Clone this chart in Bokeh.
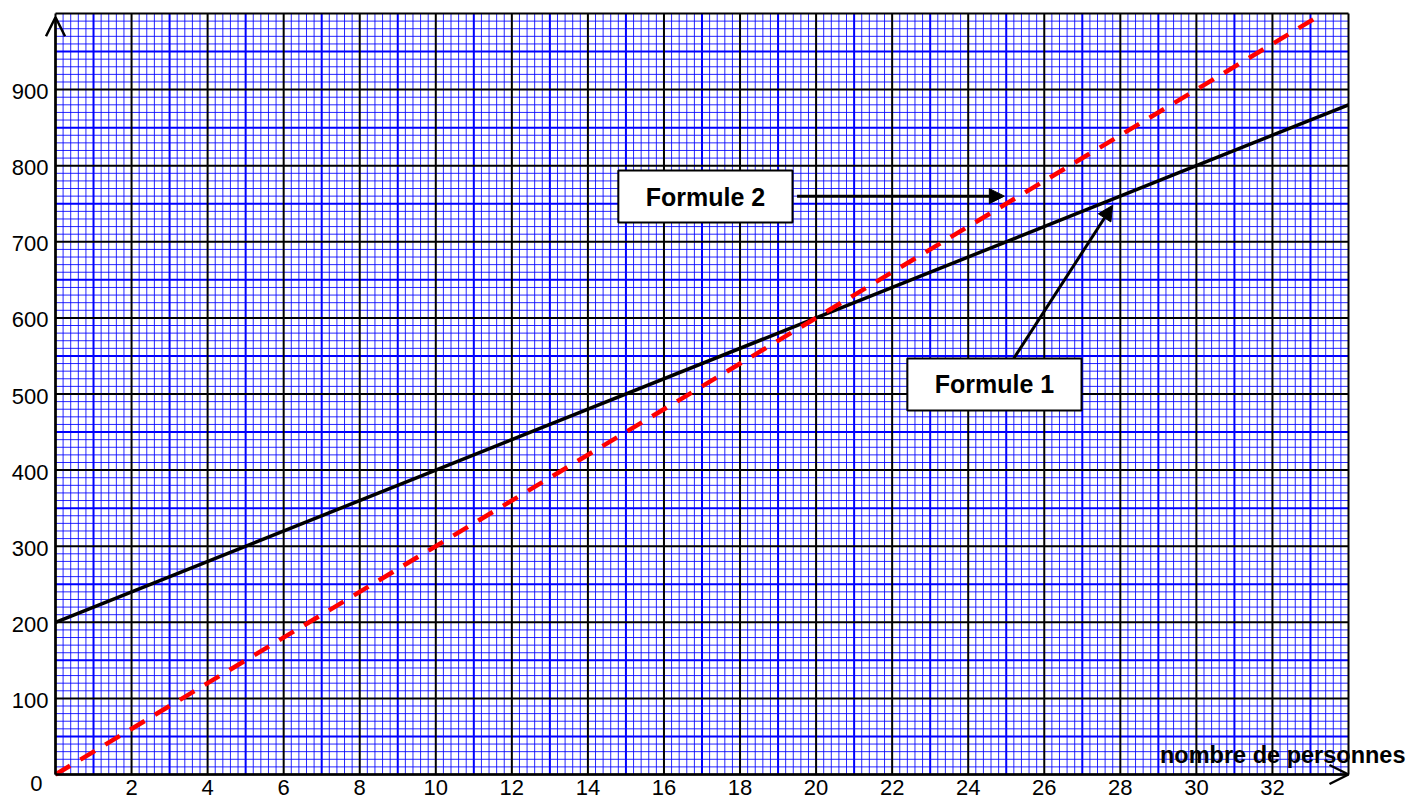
from bokeh.plotting import figure
from bokeh.models import (Range1d, Label, LabelSet, ColumnDataSource,
                          Arrow, NormalHead, OpenHead, BoxAnnotation)
from bokeh.core.properties import value
from bokeh.embed import file_html
from bokeh.resources import INLINE

# ---- data ----
x_f1 = [0, 10, 20, 30, 34]
y_f1 = [200, 400, 600, 800, 880]
x_f2 = [0, 10, 20, 30, 33.33]
y_f2 = [0, 300, 600, 900, 1000]
x_ticks = [2, 4, 6, 8, 10, 12, 14, 16, 18, 20, 22, 24, 26, 28, 30, 32]
x_labels = [str(v) for v in x_ticks]
y_ticks = [100, 200, 300, 400, 500, 600, 700, 800, 900]
y_labels = [str(v) for v in y_ticks]
x_title = "nombre de personnes"
label_f1 = "Formule 1"
label_f2 = "Formule 2"

FONT = "Liberation Sans"
XMAX, YMAX = 34, 1000

# layout: paper area occupies pixels 55..1348 (x) and 13..774 (y) of the canvas
W, H = 1408, 801
PX_L, PX_R, PX_T, PX_B = 55, 1348, 13, 774
sx = (PX_R - PX_L) / XMAX
sy = (PX_B - PX_T) / YMAX
x_range = Range1d(-PX_L / sx, XMAX + (W - PX_R) / sx)
y_range = Range1d(-(H - PX_B) / sy, YMAX + PX_T / sy)

p = figure(width=W, height=H, output_backend="svg", toolbar_location=None,
           x_range=x_range, y_range=y_range,
           x_axis_location=None, y_axis_location=None,
           min_border_left=0, min_border_right=0, min_border_top=0, min_border_bottom=0)
p.grid.visible = False
p.outline_line_color = None
p.background_fill_color = "white"
p.border_fill_color = "white"

# ---- graph paper grid ----
x_minor = [i * 0.2 for i in range(171) if i % 5 != 0]
y_minor = [i * 10 for i in range(101) if i % 5 != 0]
x_mid = [i for i in range(1, 34, 2)]
y_mid = [i * 100 + 50 for i in range(10)]
x_major = [i for i in range(0, 35, 2)]
y_major = [i * 100 for i in range(11)]

for xs, ys, color, width, alpha in [
    (x_minor, y_minor, "#0000ff", 1, 0.85),
    (x_mid, y_mid, "#0000ff", 2, 1.0),
    (x_major, y_major, "black", 2, 1.0),
]:
    p.segment(x0=xs, y0=[0] * len(xs), x1=xs, y1=[YMAX] * len(xs),
              line_color=color, line_width=width, line_alpha=alpha)
    p.segment(x0=[0] * len(ys), y0=ys, x1=[XMAX] * len(ys), y1=ys,
              line_color=color, line_width=width, line_alpha=alpha)

# ---- lines ----
p.line(x_f1, y_f1, line_color="black", line_width=3.5)
p.line(x_f2, y_f2, line_color="#ff0000", line_width=4.5, line_dash="17 12")

# ---- axis arrows ----
p.add_layout(Arrow(end=OpenHead(size=19, line_width=2.5, line_color="black"),
                   x_start=0, y_start=0, x_end=0, y_end=995,
                   line_width=2.5, line_color="black"))
p.add_layout(Arrow(end=OpenHead(size=19, line_width=2.5, line_color="black"),
                   x_start=0, y_start=0, x_end=XMAX, y_end=0,
                   line_width=2.5, line_color="black"))

# ---- tick labels ----
src_x = ColumnDataSource(dict(x=x_ticks, y=[0] * len(x_ticks), t=x_labels))
p.add_layout(LabelSet(x="x", y="y", text="t", source=src_x, text_align="center",
                      text_baseline="alphabetic", y_offset=-20,
                      text_font=value(FONT), text_font_size="22px", text_color="black"))
src_y = ColumnDataSource(dict(x=[0] * len(y_ticks), y=y_ticks, t=y_labels))
p.add_layout(LabelSet(x="x", y="y", text="t", source=src_y, text_align="right",
                      text_baseline="middle", x_offset=-7, y_offset=-2,
                      text_font=value(FONT), text_font_size="22px", text_color="black"))
p.add_layout(Label(x=0, y=0, text="0", text_align="right", text_baseline="middle",
                   x_offset=-13, y_offset=-9, text_font=FONT, text_font_size="22px",
                   text_color="black"))
p.add_layout(Label(x=XMAX, y=0, text=x_title, text_align="right", text_baseline="alphabetic",
                   x_offset=57, y_offset=20, text_font=FONT, text_font_size="23.5px",
                   text_font_style="bold", text_color="black"))

# ---- annotation boxes ----
p.add_layout(BoxAnnotation(left=14.8, right=19.38, bottom=725.4, top=793.7,
                           fill_color="white", fill_alpha=1, line_color="black",
                           line_width=2, line_alpha=1))
p.add_layout(BoxAnnotation(left=22.4, right=26.98, bottom=478.3, top=546.6,
                           fill_color="white", fill_alpha=1, line_color="black",
                           line_width=2, line_alpha=1))
p.add_layout(Label(x=17.09, y=759.5, text=label_f2, text_align="center",
                   text_baseline="middle", text_font=FONT, text_font_size="25px",
                   text_font_style="bold", text_color="black"))
p.add_layout(Label(x=24.69, y=512.5, text=label_f1, text_align="center",
                   text_baseline="middle", text_font=FONT, text_font_size="25px",
                   text_font_style="bold", text_color="black"))

# ---- pointer arrows ----
p.add_layout(Arrow(end=NormalHead(size=15, fill_color="black", line_color="black"),
                   x_start=19.5, y_start=760, x_end=24.95, y_end=760,
                   line_width=3, line_color="black"))
p.add_layout(Arrow(end=NormalHead(size=15, fill_color="black", line_color="black"),
                   x_start=25.2, y_start=547, x_end=27.8, y_end=748,
                   line_width=3, line_color="black"))

open("out.html", "w").write(file_html(p, INLINE))
